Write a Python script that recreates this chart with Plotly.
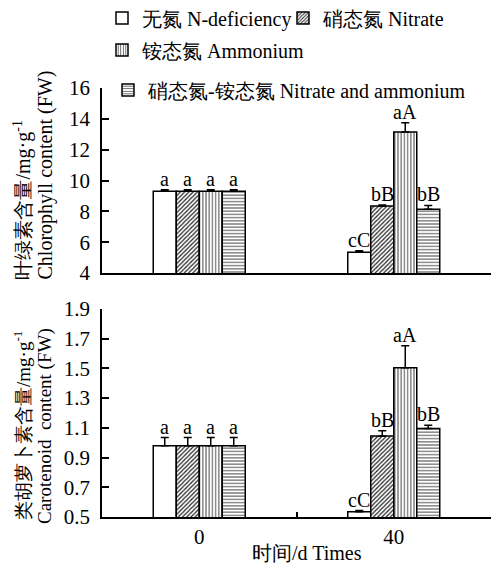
import plotly.graph_objects as go

categories = ["0", "40"]
series_names = ["无氮 N-deficiency", "硝态氮 Nitrate", "铵态氮 Ammonium", "硝态氮-铵态氮 Nitrate and ammonium"]

chl_values = [
    [9.3, 5.35],
    [9.3, 8.35],
    [9.3, 13.15],
    [9.3, 8.13],
]
chl_errors = [
    [0.1, 0.1],
    [0.1, 0.06],
    [0.1, 0.6],
    [0.1, 0.25],
]
chl_labels = [
    ["a", "cC"],
    ["a", "bB"],
    ["a", "aA"],
    ["a", "bB"],
]

car_values = [
    [0.98, 0.535],
    [0.98, 1.045],
    [0.98, 1.505],
    [0.98, 1.095],
]
car_errors = [
    [0.055, 0.008],
    [0.055, 0.035],
    [0.055, 0.147],
    [0.055, 0.022],
]
car_labels = [
    ["a", "cC"],
    ["a", "bB"],
    ["a", "aA"],
    ["a", "bB"],
]

chl_ticks = [4, 6, 8, 10, 12, 14, 16]
car_ticks = [0.5, 0.7, 0.9, 1.1, 1.3, 1.5, 1.7, 1.9]

patterns = [
    dict(shape="", fgcolor="black", bgcolor="white"),
    dict(shape="/", size=3, solidity=0.4, fgcolor="#222", bgcolor="white"),
    dict(shape="|", size=3.2, solidity=0.3, fgcolor="#444", bgcolor="white"),
    dict(shape="-", size=3.2, solidity=0.3, fgcolor="#444", bgcolor="white"),
]
legend_ids = ["legend", "legend", "legend2", "legend3"]

FONT = "Liberation Serif"
W, H = 494, 565
ML, MR = 102, 3
PW = W - ML - MR
BARGAP = 0.527

fig = go.Figure()

for panel, (vals, errs, yaxis) in enumerate([(chl_values, chl_errors, "y"), (car_values, car_errors, "y2")]):
    for i in range(4):
        fig.add_trace(go.Bar(
            x=categories, y=vals[i], name=series_names[i],
            xaxis="x" if panel == 0 else "x2", yaxis=yaxis,
            marker=dict(color="white", line=dict(color="black", width=1.5), pattern=patterns[i]),
            error_y=dict(type="data", symmetric=False, array=errs[i], arrayminus=[0, 0],
                         color="black", thickness=1.5, width=4),
            showlegend=(panel == 0), legend=legend_ids[i],
            offsetgroup=str(i),
        ))

annotations = []
bw = (1 - BARGAP) / 4
for panel, (vals, errs, labs, xr, yr) in enumerate([
        (chl_values, chl_errors, chl_labels, "x", "y"),
        (car_values, car_errors, car_labels, "x2", "y2")]):
    for i in range(4):
        for j in range(len(categories)):
            annotations.append(dict(
                x=j + (i - 1.5) * bw, y=vals[i][j] + errs[i][j], xref=xr, yref=yr,
                text=labs[i][j], showarrow=False, yanchor="bottom", xanchor="center",
                font=dict(family=FONT, size=20, color="black"), yshift=-2,
            ))

def px_x(p):
    return (p - ML) / PW

def px_y(p):
    return (H - p) / H

title_font = dict(family=FONT, size=20, color="black")
title_font2 = dict(family=FONT, size=19, color="black")
annotations += [
    dict(x=px_x(22), y=px_y(282), xref="paper", yref="paper", text="叶绿素含量/mg·g<sup>-1</sup>",
         textangle=-90, showarrow=False, xanchor="center", yanchor="bottom", font=title_font),
    dict(x=px_x(45), y=px_y(282), xref="paper", yref="paper", text="Chlorophyll content (FW)",
         textangle=-90, showarrow=False, xanchor="center", yanchor="bottom", font=title_font),
    dict(x=px_x(22), y=px_y(426), xref="paper", yref="paper", text="类胡萝卜素含量/mg·g<sup>-1</sup>",
         textangle=-90, showarrow=False, xanchor="center", yanchor="middle", font=title_font2),
    dict(x=px_x(45), y=px_y(426), xref="paper", yref="paper", text="Carotenoid  content (FW)",
         textangle=-90, showarrow=False, xanchor="center", yanchor="middle", font=title_font2),
    dict(x=px_x(307), y=px_y(553), xref="paper", yref="paper", text="时间/d Times",
         showarrow=False, xanchor="center", yanchor="middle", font=dict(family=FONT, size=20, color="black")),
]

axis_common = dict(showline=True, linecolor="black", linewidth=1.5, showgrid=False, zeroline=False,
                   automargin=False)

fig.update_layout(
    template="none",
    width=W, height=H,
    margin=dict(l=ML, r=MR, t=0, b=0, autoexpand=False),
    paper_bgcolor="white", plot_bgcolor="white",
    barmode="group", bargap=BARGAP, bargroupgap=0,
    font=dict(family=FONT, size=20, color="black"),
    xaxis=dict(domain=[0, 1], anchor="y", type="category", categoryorder="array", categoryarray=categories,
               showticklabels=False, ticks="", range=[-0.5, 1.5], **axis_common),
    yaxis=dict(domain=[px_y(273), px_y(88)], anchor="x", range=[4, 16], tickvals=chl_ticks,
               ticks="inside", ticklen=7, tickwidth=1.5, tickcolor="black", ticklabelstandoff=6,
               tickfont=dict(family=FONT, size=21), **axis_common),
    xaxis2=dict(domain=[0, 1], anchor="y2", type="category", categoryorder="array", categoryarray=categories,
                ticks="inside", tickson="boundaries", ticklen=5, tickwidth=1.5, tickcolor="black",
                range=[-0.5, 1.5], ticklabelstandoff=0, tickfont=dict(family=FONT, size=21), **axis_common),
    yaxis2=dict(domain=[px_y(517), px_y(309)], anchor="x2", range=[0.5, 1.9], tickvals=car_ticks,
                tickformat=".1f", ticks="inside", ticklen=7, tickwidth=1.5, tickcolor="black",
                ticklabelstandoff=6, tickfont=dict(family=FONT, size=21), **axis_common),
    legend=dict(x=0, y=px_y(18), xanchor="left", yanchor="middle", orientation="h",
                bgcolor="rgba(0,0,0,0)", font=dict(family=FONT, size=20), entrywidth=136,
                entrywidthmode="pixels", traceorder="normal"),
    legend2=dict(x=0, y=px_y(50), xanchor="left", yanchor="middle", orientation="h",
                 bgcolor="rgba(0,0,0,0)", font=dict(family=FONT, size=20)),
    legend3=dict(x=px_x(108), y=px_y(90), xanchor="left", yanchor="middle", orientation="h",
                 bgcolor="rgba(0,0,0,0)", font=dict(family=FONT, size=20)),
    annotations=annotations,
)

fig.write_html("out.html")
